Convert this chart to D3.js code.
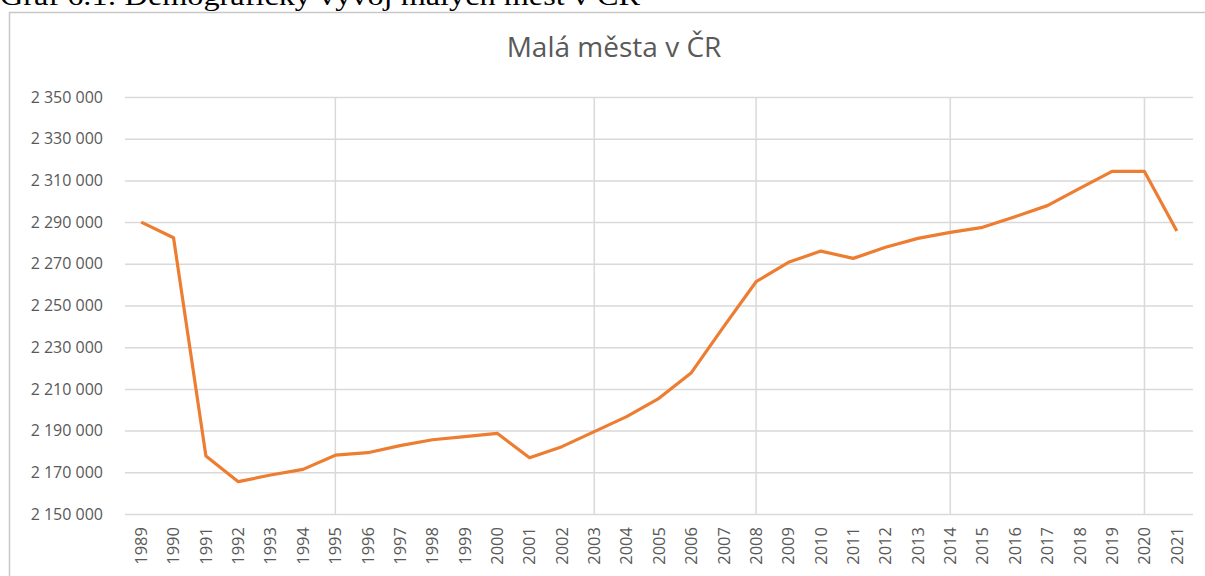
<!DOCTYPE html>
<html>
<head>
<meta charset="utf-8">
<script src="https://cdn.jsdelivr.net/npm/d3@7"></script>
<style>
	body { margin: 0; background: #fff; }
	svg { display: block; }
</style>
</head>
<body>
<svg width="1205" height="576"></svg>
<script>
var years = ["1989","1990","1991","1992","1993","1994","1995","1996","1997","1998","1999","2000",
	"2001","2002","2003","2004","2005","2006","2007","2008","2009","2010","2011","2012",
	"2013","2014","2015","2016","2017","2018","2019","2020","2021"];
var population = [2290000, 2282500, 2177800, 2165500, 2168700, 2171400, 2178200, 2179400, 2182800, 2185600, 2187100, 2188700,
	2177000, 2182300, 2189500, 2196700, 2205500, 2217800, 2239900, 2261400, 2270700, 2276100, 2272600, 2277900,
	2282200, 2285100, 2287500, 2292600, 2297900, 2306200, 2314300, 2314300, 2285700];
var yTicks = [2150000, 2170000, 2190000, 2210000, 2230000, 2250000, 2270000, 2290000, 2310000, 2330000, 2350000];
var vGridYears = ["1995", "2003", "2008", "2014", "2020"]; // vertical lines as they show in the picture
var chartTitle = "Malá města v ČR";
var caption = "Graf 6.1: Demografický vývoj malých měst v ČR";

var svg = d3.select("svg");
var textColor = "#595959",
	gridColor = "#d9d9d9";
var plotLeft = 125, plotRight = 1193, plotTop = 97, plotBottom = 514;

// caption of the document, cut off at the top
svg.append("text")
	.attr("x", 0)
	.attr("y", 5)
	.attr("font-family", "Liberation Serif, serif")
	.attr("font-size", 27)
	.attr("textLength", 640)
	.attr("lengthAdjust", "spacingAndGlyphs")
	.attr("fill", "#000")
	.text(caption);

// chart frame
svg.append("rect")
	.attr("x", 9.5).attr("y", 12.5)
	.attr("width", 1205).attr("height", 600)
	.attr("fill", "#fff")
	.attr("stroke", "#c8c8c8")
	.attr("stroke-width", 1.5);

svg.append("text")
	.attr("x", 614)
	.attr("y", 57)
	.attr("text-anchor", "middle")
	.attr("font-family", "Open Sans, sans-serif")
	.attr("font-size", 28)
	.attr("fill", textColor)
	.text(chartTitle);

var x = d3.scaleBand().domain(years).range([plotLeft, plotRight]);
var y = d3.scaleLinear().domain([2150000, 2350000]).range([plotBottom, plotTop]);

var fmt = function(d) { return d3.format(",")(d).replace(/,/g, " "); };

// horizontal grid + y labels
var yAxis = svg.append("g")
	.attr("transform", "translate(" + plotLeft + ",0)")
	.call(d3.axisLeft(y).tickValues(yTicks).tickFormat(fmt).tickSize(-(plotRight - plotLeft)).tickPadding(22));
yAxis.select(".domain").remove();
yAxis.selectAll(".tick line").attr("stroke", gridColor).attr("stroke-width", 1.5);
yAxis.selectAll(".tick text")
	.attr("font-family", "Open Sans, sans-serif")
	.attr("font-size", 16)
	.attr("fill", textColor);

// vertical lines
svg.append("g")
	.selectAll("line")
	.data(vGridYears)
	.enter().append("line")
		.attr("x1", function(d) { return x(d) + x.bandwidth() / 2; })
		.attr("x2", function(d) { return x(d) + x.bandwidth() / 2; })
		.attr("y1", plotTop)
		.attr("y2", plotBottom)
		.attr("stroke", gridColor)
		.attr("stroke-width", 1.5);

// x labels, rotated
var xAxis = svg.append("g")
	.attr("transform", "translate(0," + plotBottom + ")")
	.call(d3.axisBottom(x).tickSize(0));
xAxis.select(".domain").remove();
xAxis.selectAll(".tick text")
	.attr("font-family", "Open Sans, sans-serif")
	.attr("font-size", 16.5)
	.attr("fill", textColor)
	.attr("transform", "rotate(-90)")
	.attr("text-anchor", "end")
	.attr("x", -13)
	.attr("y", 0)
	.attr("dy", "0.35em");

var line = d3.line()
	.x(function(d, i) { return x(years[i]) + x.bandwidth() / 2; })
	.y(function(d) { return y(d); });

svg.append("path")
	.datum(population)
	.attr("fill", "none")
	.attr("stroke", "#ED7D31")
	.attr("stroke-width", 3.2)
	.attr("stroke-linejoin", "round")
	.attr("d", line);
</script>
</body>
</html>
